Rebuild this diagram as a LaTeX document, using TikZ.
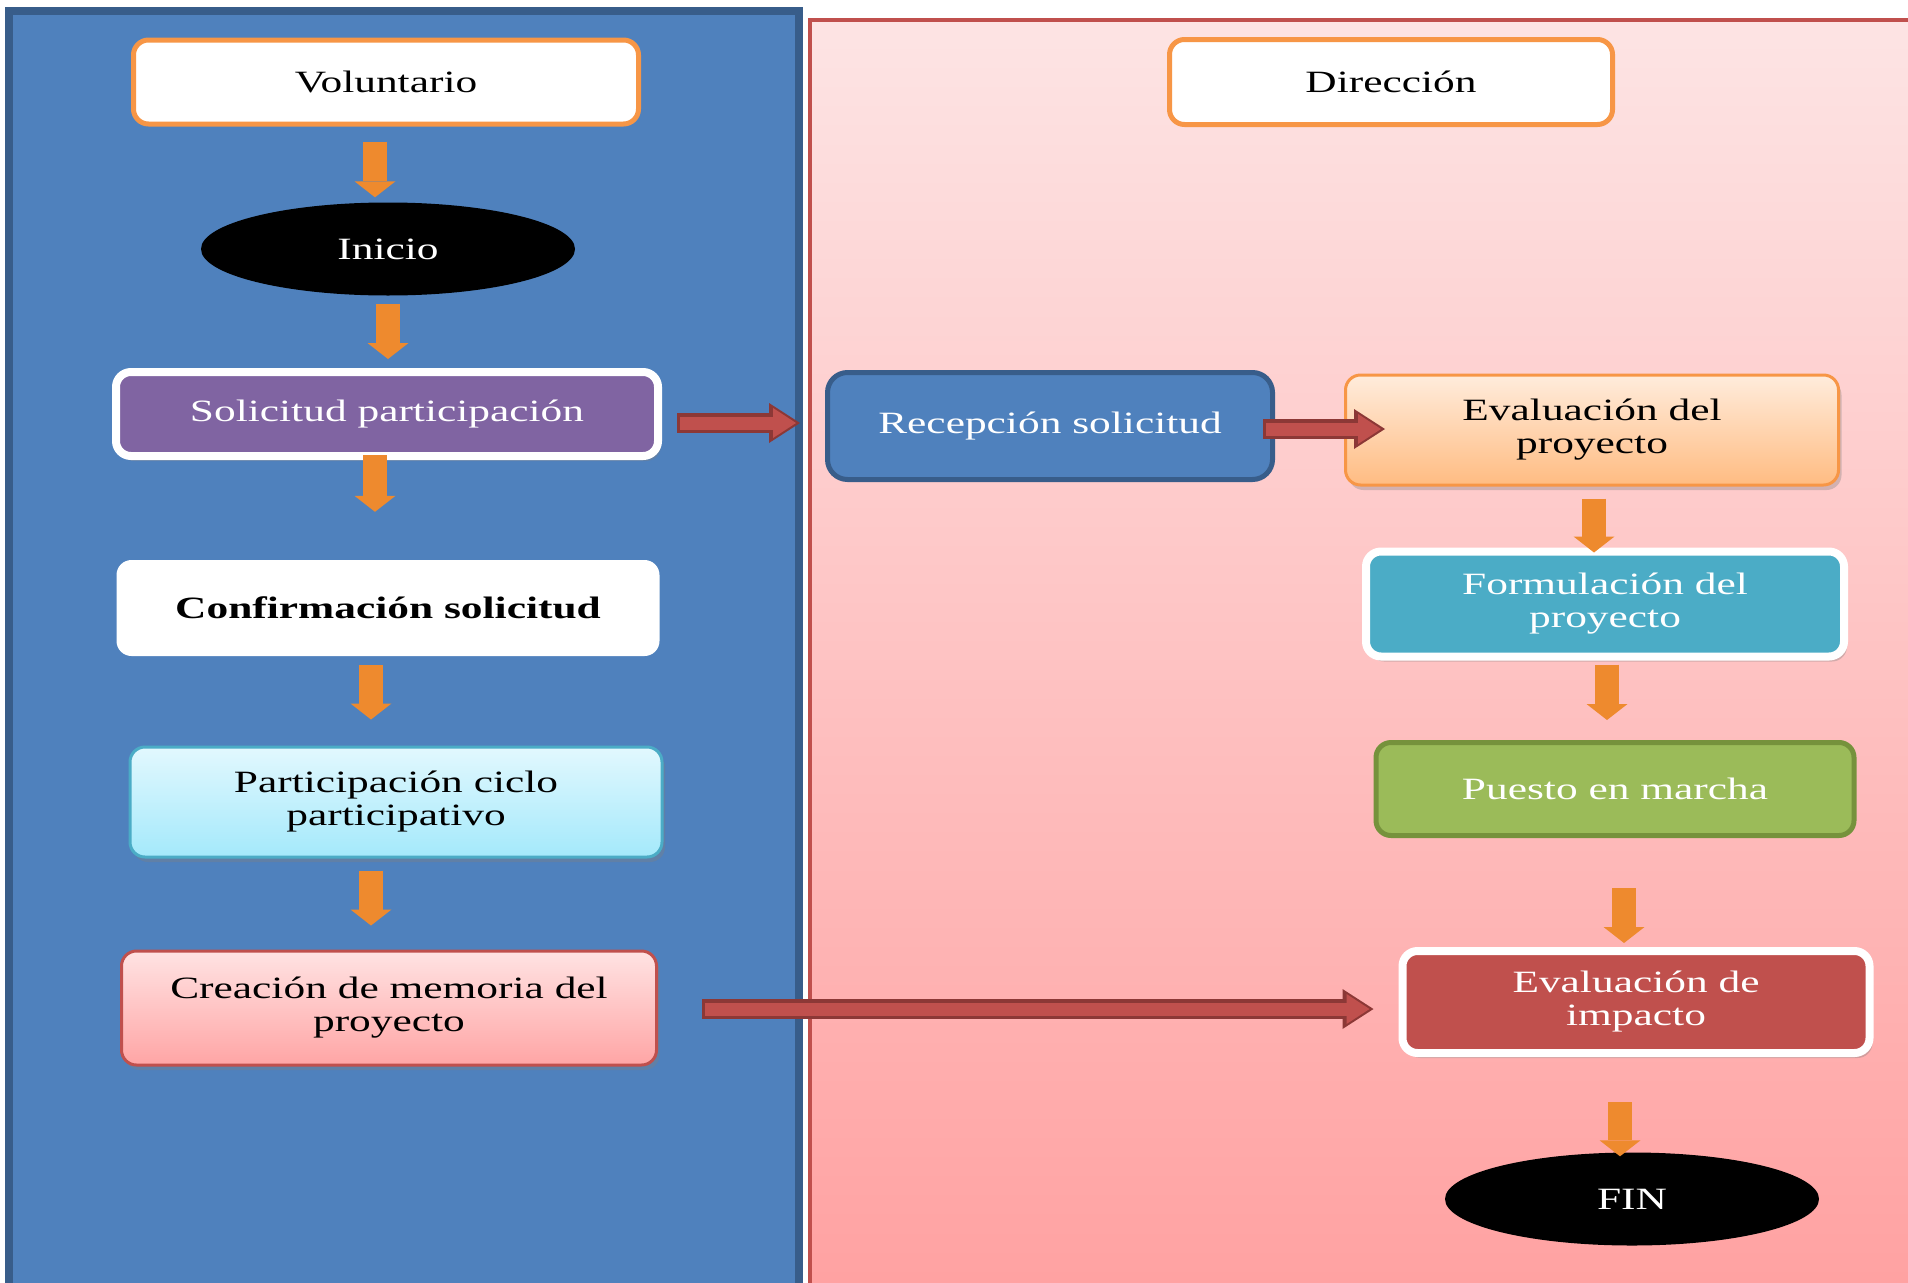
\documentclass[tikz,border=0pt]{standalone}
\usepackage{fontspec}
\setmainfont{Liberation Serif}[FakeStretch=1.4]
\usetikzlibrary{shapes.geometric,arrows.meta,shadows,calc}

\definecolor{laneblue}{HTML}{4F81BD}
\definecolor{laneblueline}{HTML}{385D8A}
\definecolor{lanered}{HTML}{C0504D}
\definecolor{darkred}{HTML}{8C3836}
\definecolor{pinktop}{HTML}{FDE4E4}
\definecolor{pinkbot}{HTML}{FFA1A1}
\definecolor{boxorange}{HTML}{F79646}
\definecolor{arroworange}{HTML}{EE8A2E}
\definecolor{purplebox}{HTML}{8064A2}
\definecolor{cyanline}{HTML}{4BACC6}
\definecolor{cyantop}{HTML}{E2F8FE}
\definecolor{cyanbot}{HTML}{A4E9FB}
\definecolor{rosetop}{HTML}{FFE3E3}
\definecolor{rosebot}{HTML}{FFA5A5}
\definecolor{peachtop}{HTML}{FFECDC}
\definecolor{peachbot}{HTML}{FFBC82}
\definecolor{greenbox}{HTML}{9BBB59}
\definecolor{greenline}{HTML}{76923C}

\begin{document}
\begin{tikzpicture}[x=1pt, y=-1pt,
  flowbox/.style={rectangle, rounded corners=15pt, align=center, inner sep=0pt,
    font=\fontsize{31}{33}\selectfont},
  endbox/.style={ellipse, fill=black, text=white, inner sep=0pt,
    minimum width=374pt, minimum height=93pt, font=\fontsize{31}{33}\selectfont},
  boxshadow/.style={drop shadow={shadow xshift=3pt, shadow yshift=-5pt, opacity=0.35}},
  oarrow/.style={draw=arroworange, line width=24pt,
    -{Triangle[line width=0pt, length=16pt 0 0, width=41pt 0 0]}},
  redout/.style={draw=darkred, line width=20pt,
    -{Triangle[line width=0pt, length=31pt 0 0, width=40pt 0 0]}},
  redin/.style={draw=lanered, line width=13pt, shorten >=4pt, shorten <=3pt,
    -{Triangle[line width=0pt, length=23pt 0 0, width=30pt 0 0]}}]

  \useasboundingbox (0,0) rectangle (1908,1282);
  \clip (0,0) rectangle (1908,1282);

% LANES
  \draw[laneblueline, line width=8pt, fill=laneblue] (9,11) rectangle (799,1300);
  \draw[lanered, line width=4pt, top color=pinktop, bottom color=pinkbot] (810,20) rectangle (1930,1300);

% Voluntario lane
  \node[flowbox, draw=boxorange, line width=5pt, fill=white, minimum width=505pt, minimum height=84pt]
    (volun) at (386,82) {Voluntario};
  \node[endbox] (inicio) at (388,249) {Inicio};
  \node[flowbox, boxshadow, draw=white, line width=8pt, fill=purplebox, text=white,
    minimum width=542pt, minimum height=84pt] (solic) at (387,414) {Solicitud participación};
  \node[flowbox, fill=white, minimum width=543pt, minimum height=96pt,
    font=\fontsize{31}{33}\selectfont\bfseries] (confirm) at (388,608) {Confirmación solicitud};
  \node[flowbox, boxshadow, draw=cyanline, line width=3pt, top color=cyantop, bottom color=cyanbot,
    minimum width=532pt, minimum height=110pt] (particip) at (396,802) {Participación ciclo\\participativo};
  \node[flowbox, boxshadow, draw=lanered, line width=3pt, top color=rosetop, bottom color=rosebot,
    minimum width=535pt, minimum height=114pt] (creac) at (389,1008) {Creación de memoria del\\proyecto};

% Direccion lane
  \node[flowbox, draw=boxorange, line width=5pt, fill=white, minimum width=443pt, minimum height=85pt]
    (direc) at (1391,82) {Dirección};
  \node[flowbox, draw=laneblueline, line width=5pt, fill=laneblue, text=white, rounded corners=20pt,
    minimum width=445pt, minimum height=107pt] (recep) at (1050,426) {Recepción solicitud};
  \node[flowbox, boxshadow, draw=boxorange, line width=3pt, top color=peachtop, bottom color=peachbot,
    minimum width=493pt, minimum height=110pt] (evalp) at (1592,430) {Evaluación del\\proyecto};
  \node[flowbox, boxshadow, draw=white, line width=8pt, fill=cyanline, text=white,
    minimum width=478pt, minimum height=105pt] (formul) at (1605,604) {Formulación del\\proyecto};
  \node[flowbox, draw=greenline, line width=5pt, fill=greenbox, text=white,
    minimum width=478pt, minimum height=93pt] (puesto) at (1615,789) {Puesto en marcha};
  \node[flowbox, boxshadow, draw=white, line width=8pt, fill=lanered, text=white,
    minimum width=467pt, minimum height=102pt] (evalimp) at (1636,1002) {Evaluación de\\impacto};
  \node[endbox] (fin) at (1632,1199) {FIN};

% Orange arrows
  \draw[oarrow] ($(volun.south)+(-11,15)$) -- ($(volun.south |- inicio.north)+(-11,-5)$);
  \draw[oarrow] ($(inicio.south)+(0,8)$) -- ($(inicio.south |- solic.north)+(0,-9)$);
  \draw[oarrow] ($(solic.south)+(-12,-5)$) -- ($(solic.south |- confirm.north)+(-12,-48)$);
  \draw[oarrow] ($(confirm.south)+(-17,9)$) -- ($(confirm.south |- particip.north)+(-17,-26)$);
  \draw[oarrow] ($(particip.south)+(-25,12)$) -- ($(particip.south |- creac.north)+(-25,-24)$);

  \draw[oarrow] ($(evalp.south)+(2,12)$) -- ($(evalp.south |- formul.north)+(2,5)$);
  \draw[oarrow] ($(formul.south)+(2,4)$) -- ($(formul.south |- puesto.north)+(2,-20)$);
  \draw[oarrow] ($(puesto.south)+(9,50)$) -- ($(puesto.south |- evalimp.north)+(9,-4)$);
  \draw[oarrow] ($(evalimp.south)+(-16,45)$) -- ($(evalimp.south |- fin.north)+(-16,4)$);

% Red arrows
  \draw[redout] ($(solic.east)+(15,9)$) -- ($(solic.east -| recep.west)+(-25,9)$);
  \draw[redin]  ($(solic.east)+(15,9)$) -- ($(solic.east -| recep.west)+(-25,9)$);
  \draw[redout] ($(recep.east)+(-12,3)$) -- ($(recep.east -| evalp.west)+(41,3)$);
  \draw[redin]  ($(recep.east)+(-12,3)$) -- ($(recep.east -| evalp.west)+(41,3)$);
  \draw[redout] ($(creac.east)+(44,1)$) -- ($(creac.east -| evalimp.west)+(-25,1)$);
  \draw[redin]  ($(creac.east)+(44,1)$) -- ($(creac.east -| evalimp.west)+(-25,1)$);

\end{tikzpicture}
\end{document}
